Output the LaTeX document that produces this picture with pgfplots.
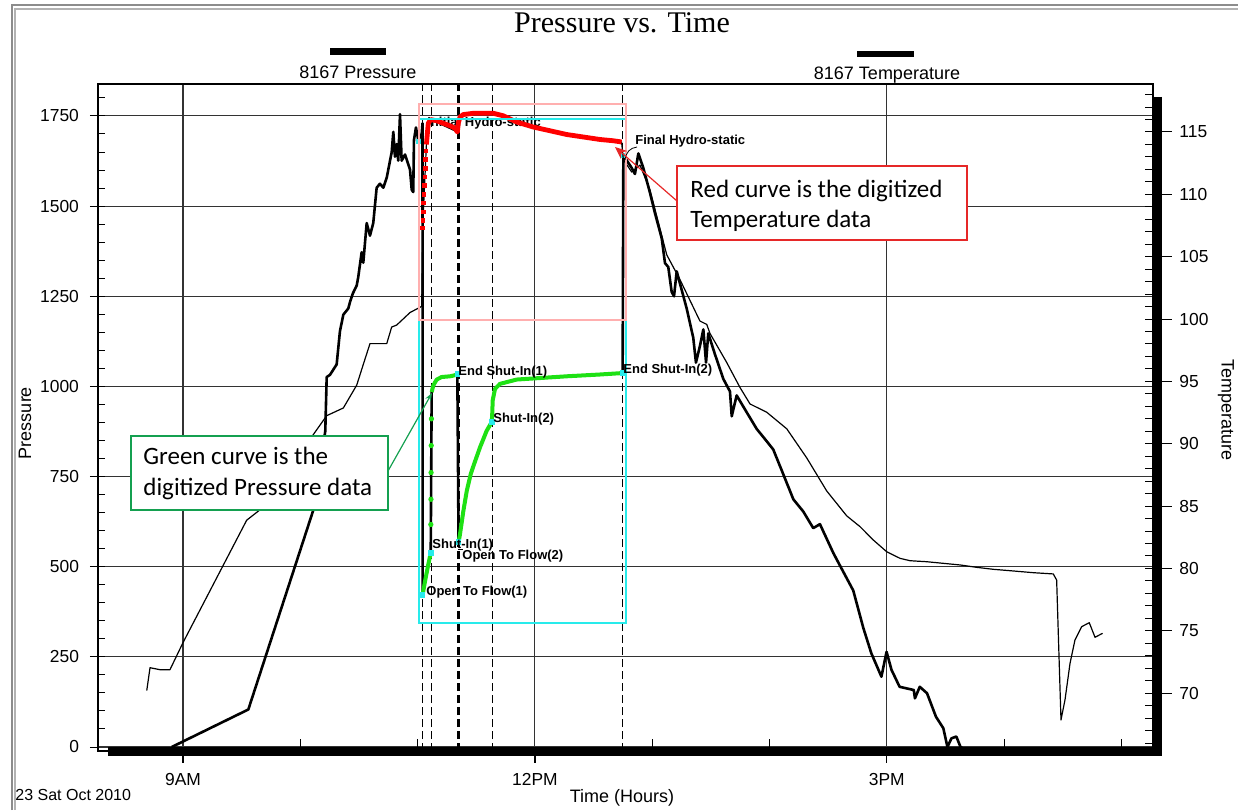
\documentclass[border=0pt]{standalone}
\usepackage{fontspec}
\setmainfont{Liberation Sans}
\newfontfamily\titlefont{Liberation Serif}
\newfontfamily\notefont{Carlito}
\usepackage{pgfplots}
\pgfplotsset{compat=1.18}
\usetikzlibrary{arrows.meta}
\definecolor{digigreen}{RGB}{30,225,20}
\definecolor{digired}{RGB}{255,0,0}
\definecolor{boxcyan}{RGB}{40,235,235}
\definecolor{boxpink}{RGB}{255,175,175}
\definecolor{calgreen}{RGB}{20,160,80}
\definecolor{calred}{RGB}{230,40,40}

\begin{document}
\begin{tikzpicture}[pix/.style={x=0.5pt,y=-0.5pt,shift={(-49pt,375.5pt)}}]
\useasboundingbox (-49pt,-29.5pt) rectangle (570pt,375.5pt);

% pressure axis (left)
\begin{axis}[
  at={(0,0)}, anchor=south west, scale only axis,
  width=527.5pt, height=333.5pt,
  xmin=8.2754, xmax=17.2694,
  ymin=-11.1, ymax=1838.6,
  xtick={9,12,15}, xticklabels={9AM,12PM,3PM},
  ytick={0,250,500,750,1000,1250,1500,1750},
  yticklabels={0,250,500,750,1000,1250,1500,1750},
  major tick length=0pt,
  grid=major,
  major grid style={black!80, line width=0.55pt},
  axis line style={black, line width=0.6pt},
  tick label style={font=\fontsize{8.7}{9}\selectfont},
  yticklabel style={xshift=-6pt},
  xticklabel style={yshift=-7.5pt},
]
  % test period markers
  \draw[line width=0.5pt, dash pattern=on 4pt off 2pt] (axis cs:11.045,-11.1) -- (axis cs:11.045,1838.6);
  \draw[line width=0.5pt, dash pattern=on 4pt off 2pt] (axis cs:11.115,-11.1) -- (axis cs:11.115,1838.6);
  \draw[line width=1.3pt, dash pattern=on 4pt off 2pt] (axis cs:11.347,-11.1) -- (axis cs:11.347,1838.6);
  \draw[line width=0.8pt, dash pattern=on 4pt off 2pt] (axis cs:11.637,-11.1) -- (axis cs:11.637,1838.6);
  \draw[line width=0.5pt, dash pattern=on 4pt off 2pt] (axis cs:12.750,-11.1) -- (axis cs:12.750,1838.6);

  \node[anchor=west, inner sep=0pt, font=\fontsize{6.5}{7}\selectfont\bfseries] at (axis cs:11.080,1730) {Initial Hydro-static};

  % 8167 Pressure
  \addplot[black, line width=1.3pt, line join=round] table {
8.904 0
9.557 104
10.111 657
10.213 876
10.225 1026
10.253 1032
10.310 1061
10.338 1153
10.367 1199
10.409 1216
10.424 1234
10.447 1257
10.481 1280
10.494 1303
10.523 1372
10.537 1343
10.566 1453
10.594 1418
10.622 1453
10.651 1551
10.679 1562
10.708 1551
10.737 1579
10.765 1626
10.779 1649
10.793 1706
10.807 1637
10.822 1672
10.835 1626
10.850 1755
10.864 1626
10.893 1643
10.935 1602
10.950 1545
10.963 1539
10.969 1683
10.986 1718
11.006 1683
11.035 1700
11.042 1730
11.043 422
11.063 459
11.091 506
11.112 538
11.120 984
11.134 1003
11.163 1019
11.205 1026
11.276 1028
11.319 1031
11.339 1035
11.349 569
11.361 589
11.390 654
11.419 710
11.453 757
11.481 784
11.532 831
11.589 877
11.632 901
11.637 928
11.640 961
11.660 993
11.702 1007
11.845 1019
11.986 1022
12.271 1028
12.555 1033
12.748 1037
12.754 1641
12.825 1606
12.853 1589
12.882 1646
12.924 1606
12.981 1537
13.024 1480
13.081 1411
13.109 1342
13.137 1331
13.166 1262
13.186 1250
13.209 1319
13.237 1285
13.294 1216
13.350 1135
13.373 1066
13.407 1112
13.436 1158
13.459 1066
13.478 1147
13.535 1089
13.606 1021
13.663 986
13.678 917
13.720 975
13.806 928
13.891 882
13.976 848
14.032 825
14.118 756
14.203 687
14.288 653
14.373 607
14.430 618
14.544 538
14.601 503
14.714 434
14.800 330
14.868 260
14.954 195
14.998 264
15.040 214
15.109 167
15.230 158
15.240 135
15.281 167
15.343 149
15.419 84
15.482 52
15.517 0
15.551 24
15.593 29
15.627 1
15.662 -8
};

  % digitized pressure
  \addplot[digigreen, line width=2pt, line join=round] table {
11.043 422
11.063 459
11.091 506
11.112 538
};
  \addplot[only marks, mark=*, mark size=1.1pt, digigreen] table {
11.113 617
11.114 687
11.115 761
11.116 836
11.118 910
};
  \addplot[digigreen, line width=2pt, line join=round] table {
11.120 984
11.134 1003
11.163 1019
11.205 1026
11.276 1028
11.319 1031
11.339 1035
};
  \addplot[digigreen, line width=2pt, line join=round] table {
11.350 569
11.361 589
11.390 654
11.419 710
11.453 757
11.481 784
11.532 831
11.589 877
11.632 901
11.637 928
11.640 961
11.660 993
11.702 1007
11.845 1019
11.986 1022
12.271 1028
12.555 1033
12.748 1037
};
  \addplot[only marks, mark=square*, mark size=1.1pt, boxcyan] table {
11.043 422
11.112 538
11.339 1035
11.350 569
11.632 901
12.748 1037
11.006 1679
12.755 1641
};
\end{axis}

% temperature axis (right)
\begin{axis}[
  at={(0,0)}, anchor=south west, scale only axis,
  width=527.5pt, height=333.5pt,
  xmin=8.2754, xmax=17.2694,
  ymin=65.36, ymax=118.85,
  axis x line=none, axis y line*=right,
  axis line style={draw=none},
  ytick={70,75,80,85,90,95,100,105,110,115},
  yticklabels={70,75,80,85,90,95,100,105,110,115},
  major tick length=0pt,
  tick label style={font=\fontsize{8.7}{9}\selectfont},
  yticklabel style={xshift=9.7pt},
]
  % 8167 Temperature
  \addplot[black, line width=0.6pt, line join=round] table {
8.691 70.21
8.719 72.04
8.804 71.88
8.889 71.88
9.000 74.05
9.543 83.87
9.656 84.70
10.225 92.25
10.367 92.87
10.481 94.70
10.537 96.36
10.594 98.03
10.737 98.03
10.779 99.36
10.822 99.52
10.935 100.52
11.035 101.02
11.043 107.3
11.077 114.4
11.112 116.0
11.339 115.0
11.361 116.2
11.475 116.5
11.646 116.5
11.845 115.8
12.129 115.1
12.413 114.6
12.739 114.2
12.754 112.79
12.825 111.79
12.896 112.35
12.981 110.35
13.124 105.15
13.237 103.16
13.407 99.84
13.465 99.57
13.493 98.84
13.635 96.52
13.748 94.52
13.834 93.19
13.976 92.53
14.147 91.20
14.317 88.87
14.488 86.21
14.658 84.22
14.772 83.35
14.885 82.28
14.999 81.34
15.113 80.81
15.198 80.62
15.340 80.54
15.482 80.41
15.624 80.28
15.766 80.09
15.908 79.93
16.050 79.82
16.249 79.66
16.419 79.56
16.448 79.07
16.462 74.80
16.485 67.85
16.519 69.45
16.562 72.39
16.604 74.26
16.661 75.33
16.726 75.65
16.775 74.48
16.840 74.80
};

  % digitized temperature
  \addplot[only marks, mark=square*, mark size=0.9pt, digired] table {
11.043 107.3
11.046 107.9
11.048 108.6
11.051 109.3
11.055 110.0
11.058 110.7
11.061 111.4
11.064 112.1
11.068 112.8
11.072 113.5
};
  \addplot[digired, line width=2.4pt, line join=round] table {
11.075 114.0
11.091 115.7
11.112 116.0
11.163 115.9
11.219 115.7
11.276 115.5
11.319 115.3
11.339 115.0
11.347 115.7
11.361 116.2
11.390 116.4
11.475 116.5
11.646 116.5
11.731 116.3
11.845 115.8
11.986 115.4
12.129 115.1
12.271 114.8
12.413 114.6
12.555 114.4
12.668 114.3
12.739 114.2
};
\end{axis}

\begin{scope}[pix]
  % digitizing windows
  \draw[boxcyan, line width=1pt] (419,119) rectangle (626,623);
  \draw[boxpink, line width=0.6pt] (419,104) rectangle (626,320);

  % event labels
  \begin{scope}[every node/.style={anchor=west, inner sep=0pt, font=\fontsize{6.5}{7}\selectfont\bfseries}]
    \node at (635,141) {Final Hydro-static};
    \node at (458,372) {End Shut-In(1)};
    \node at (493,419) {Shut-In(2)};
    \node at (623,370) {End Shut-In(2)};
    \node at (432,545) {Shut-In(1)};
    \node at (462,556) {Open To Flow(2)};
    \node at (426,592) {Open To Flow(1)};
  \end{scope}
  \draw[line width=0.4pt] (458,549) -- (463,549);
  \draw[line width=0.4pt] (637,147) .. controls (630,148) and (626,152) .. (625,160);

  % callouts
  \draw[calgreen, line width=0.6pt, fill=white] (131,436) rectangle (388,510);
  \node[anchor=base west, inner sep=0pt, font=\notefont\fontsize{12.5}{15}\selectfont] at (143,465) {Green curve is the};
  \node[anchor=base west, inner sep=0pt, font=\notefont\fontsize{12.5}{15}\selectfont] at (143,495) {digitized Pressure data};
  \draw[calgreen, line width=0.6pt, -{Stealth[length=4pt,width=3pt]}] (388,471) -- (432,393);

  \draw[calred, line width=0.6pt, fill=white] (677,166) rectangle (967,240);
  \node[anchor=base west, inner sep=0pt, font=\notefont\fontsize{12.5}{15}\selectfont] at (690,198) {Red curve is the digitized};
  \node[anchor=base west, inner sep=0pt, font=\notefont\fontsize{12.5}{15}\selectfont] at (690,228) {Temperature data};
  \draw[calred, line width=0.6pt, -{Stealth[length=6pt,width=5pt]}] (677,201) -- (615,147);

  % axis ticks
  \foreach \k in {1,...,36} \draw[line width=0.5pt] (98,{747-\k*18.03}) -- (105,{747-\k*18.03});
  \foreach \k in {0,...,7} \draw[line width=0.5pt] (90,{747-\k*90.15}) -- (98,{747-\k*90.15});
  \foreach \T in {66,...,118} \draw[line width=0.5pt] (1145,{132+(115-\T)*12.47}) -- (1153,{132+(115-\T)*12.47});
  \foreach \T in {70,75,...,115} \draw[line width=0.5pt] (1162,{132+(115-\T)*12.47}) -- (1172,{132+(115-\T)*12.47});
  \foreach \h in {10,11,13,14,16,17} \draw[line width=0.6pt] ({183+117.3*(\h-9)},747) -- ({183+117.3*(\h-9)},739);
  \foreach \h in {9,12,15} \draw[line width=0.6pt] ({183+117.3*(\h-9)},755) -- ({183+117.3*(\h-9)},763);

  % heavy axis bars
  \draw[line width=4.5pt] (108,751.5) -- (1162,751.5);
  \draw[line width=5pt] (1157,97) -- (1157,756);

  % titles and legend
  \node[anchor=base, inner sep=0pt, font=\titlefont\fontsize{15}{16}\selectfont] at (622,33) {Pressure vs. Time};
  \fill (330,48) rectangle (386,55);
  \fill (857,51) rectangle (914,57);
  \node[anchor=base, inner sep=0pt, font=\fontsize{9}{10}\selectfont] at (358,79) {8167 Pressure};
  \node[anchor=base, inner sep=0pt, font=\fontsize{9}{10}\selectfont] at (887,80) {8167 Temperature};
  \node[rotate=90, inner sep=0pt, font=\fontsize{9}{10}\selectfont] at (25,423) {Pressure};
  \node[rotate=-90, inner sep=0pt, font=\fontsize{9}{10}\selectfont] at (1226,410) {Temperature};
  \node[anchor=base, inner sep=0pt, font=\fontsize{9}{10}\selectfont] at (622,802) {Time (Hours)};
  \node[anchor=base west, inner sep=0pt, font=\fontsize{8}{9}\selectfont] at (15,800) {23 Sat Oct 2010};

  % scanned page border
  \draw[black!45, line width=1pt] (12,810) -- (12,5) -- (1238,5);
  \draw[black!30, line width=0.6pt] (15,810) -- (15,9) -- (1238,9);
\end{scope}
\end{tikzpicture}
\end{document}
